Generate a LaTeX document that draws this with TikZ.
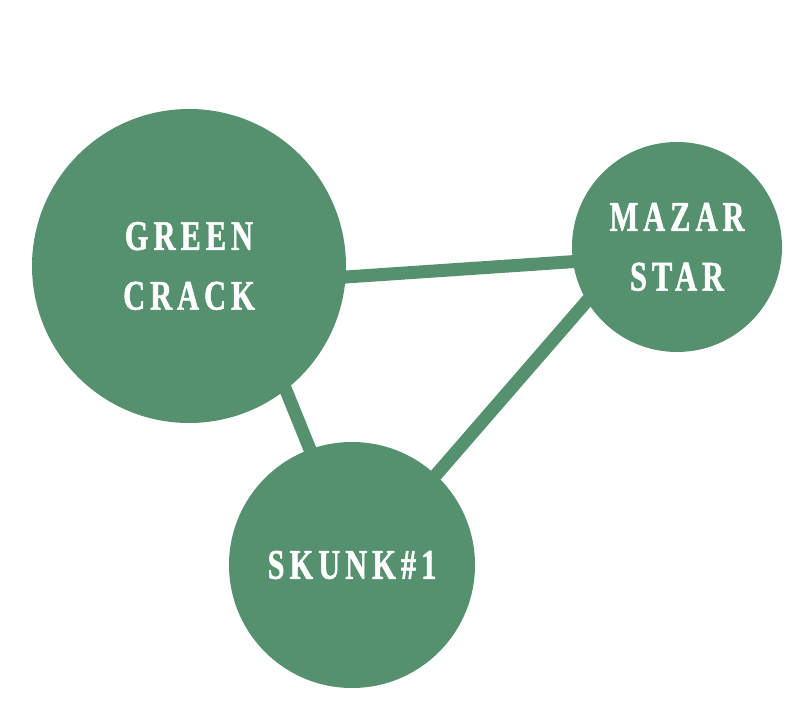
\documentclass[tikz,border=0pt]{standalone}
\usepackage{fontspec}
\setmainfont{Liberation Serif}[FakeStretch=0.72, LetterSpace=12, BoldFeatures={FakeBold=1.2}]
\usetikzlibrary{backgrounds}
\definecolor{strainGreen}{RGB}{85,145,110}

\begin{document}
\begin{tikzpicture}
            \tikzstyle{strain} = [circle, fill=strainGreen, inner sep=0pt, text=white, align=center, font=\bfseries\fontsize{24}{34}\selectfont]
            \tikzstyle{link} = [line width=0.26cm, color=strainGreen, shorten <=-0.3cm, shorten >=-0.3cm]
            \useasboundingbox (0, 0) rectangle (16, -14.36);
            \node[strain, minimum size=6.28cm] (greencrack) at (3.78, -5.32) {GREEN\\CRACK};
            \node[strain, minimum size=4.2cm] (mazarstar) at (13.54, -4.94) {MAZAR\\STAR};
            \node[strain, minimum size=4.92cm] (skunk) at (7.04, -11.30) {SKUNK\#1};

            \begin{scope}[on background layer]
                \draw[link] (greencrack.-4.4) -- (mazarstar.188);
                \draw[link] (greencrack.-52.3) -- (skunk.110.9);
                \draw[link] (mazarstar.-149.5) -- (skunk.47.4);
            \end{scope}
        \end{tikzpicture}
\end{document}
